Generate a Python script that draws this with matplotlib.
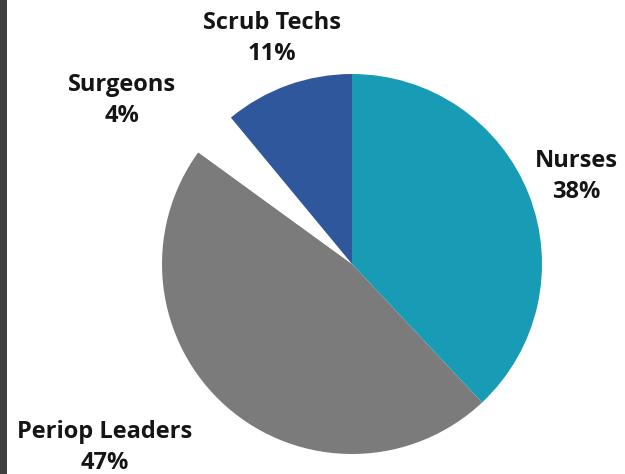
import matplotlib
matplotlib.use("Agg")
import matplotlib.pyplot as plt
from matplotlib.patches import Rectangle

# Share of respondents by role
categories = ["Nurses", "Periop Leaders", "Surgeons", "Scrub Techs"]
shares = [38, 47, 4, 11]
colors = ["#189bb5", "#7b7b7b", "#ffffff", "#2f589c"]

# Label anchor points in data units (pie radius = 1)
label_pos = {
    "Nurses": (1.18, 0.46),
    "Periop Leaders": (-1.30, -0.965),
    "Surgeons": (-1.21, 0.86),
    "Scrub Techs": (-0.42, 1.185),
}

fig = plt.figure(figsize=(6.25, 4.74), dpi=100)
fig.patch.set_facecolor("white")

# Dark strip along the left edge
fig.patches.append(Rectangle((0, 0), 7 / 625, 1, transform=fig.transFigure,
                             facecolor="#3f3f3f", edgecolor="none", zorder=0))

ax = fig.add_axes([162 / 625, 20 / 474, 380 / 625, 380 / 474])
ax.pie(shares, colors=colors, startangle=90, counterclock=False,
       radius=1.0, wedgeprops=dict(linewidth=0))
ax.set_xlim(-1, 1)
ax.set_ylim(-1, 1)
ax.set_aspect("equal")
ax.axis("off")

for name, val in zip(categories, shares):
    x, y = label_pos[name]
    ax.text(x, y, f"{name}\n{val}%", ha="center", va="center",
            fontsize=17, fontweight="bold", family="Open Sans",
            color="#151515", linespacing=1.4, clip_on=False)

fig.savefig("out.png", dpi=100)
